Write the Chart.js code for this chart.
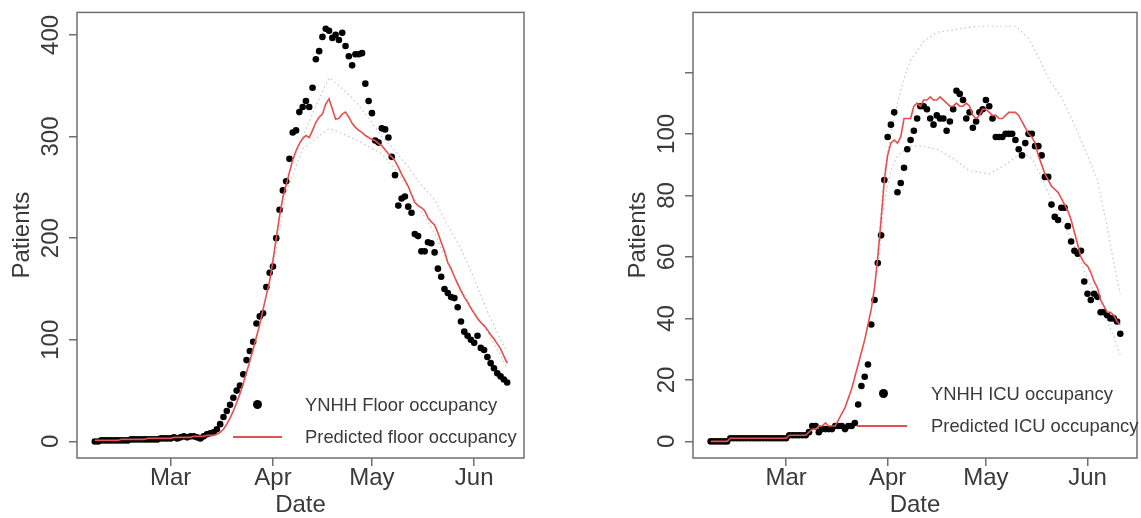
<!DOCTYPE html>
<html>
<head>
<meta charset="utf-8">
<script src="https://cdn.jsdelivr.net/npm/chart.js@4/dist/chart.umd.min.js"></script>
<style>
    body { margin: 0; background: #fff; width: 1141px; height: 518px; overflow: hidden; position: relative;
           font-family: "Liberation Sans", Arial, sans-serif; }
    canvas { position: absolute; top: 0; }
    #floorChart { left: 0; }
    #icuChart { left: 616px; }
    .leg-text { position: absolute; font-size: 18.4px; line-height: 20px; color: #3a3a3a; white-space: nowrap; }
    .leg-dot { position: absolute; width: 9px; height: 9px; border-radius: 50%; background: #000; }
    .leg-line { position: absolute; height: 2px; background: rgb(228, 80, 80); }
</style>
</head>
<body>
<canvas id="floorChart" width="540" height="518"></canvas>
<canvas id="icuChart" width="525" height="518"></canvas>

<!-- legends -->
<div class="leg-dot" style="left:253px; top:400px;"></div>
<div class="leg-text" style="left:305px; top:395px;">YNHH Floor occupancy</div>
<div class="leg-line" style="left:233px; top:436px; width:49px;"></div>
<div class="leg-text" style="left:305px; top:427px;">Predicted floor occupancy</div>

<div class="leg-dot" style="left:879px; top:389px;"></div>
<div class="leg-text" style="left:931px; top:384px;">YNHH ICU occupancy</div>
<div class="leg-line" style="left:857px; top:425px; width:50px;"></div>
<div class="leg-text" style="left:931px; top:416px;">Predicted ICU occupancy</div>

<script>
// Days are counted from Mar 1 (day 0); the series run daily from Feb 7 (day -23)
const firstDay = -23;
const xTickDays = [0, 31, 61, 92];
const xTickLabels = ['Mar', 'Apr', 'May', 'Jun'];

// Floor occupancy (left panel)
const floorObserved = [
    0, 0, 1, 1, 1, 1, 1, 1, 1,
    1, 1, 2, 2, 2, 2, 2, 2, 2, 2, 2, 3, 3, 3,
    3, 4, 3, 4, 5, 4, 5, 5, 4, 3, 5, 7, 8,
    9, 12, 17, 24, 30, 36, 43, 50, 55, 66, 80, 89, 98, 116, 123, 126, 152, 166, 172,
    200, 228, 247, 256, 278, 304, 306, 324, 329, 335, 329, 348, 376, 384, 398, 406, 404, 397, 400, 395, 402, 389, 379, 370, 381, 381, 382,
    352, 335, 323, 296, 294, 308, 307, 299, 280, 262, 232, 239, 241, 231, 225, 204, 202, 187, 187, 196, 195, 186,
    170, 162, 150, 146, 142, 141, 132, 118, 108, 104, 100, 97, 104, 92, 90, 83, 77, 72, 67, 64, 61, 58
];
const floorPredicted = [
    1, 1, 1, 1, 1, 1, 1, 1,
    2, 2, 2, 2, 2, 2, 2, 2,
    3, 3, 3, 3, 3, 3, 3, 3,
    4, 4, 4, 4, 4, 4, 5, 5, 5, 5, 6, 6,
    6, 7, 9, 12, 17, 23, 30, 38, 47, 57, 68, 79, 91, 103, 115, 130, 144, 158,
    178, 200, 222, 240, 252, 265, 277, 286, 293, 298, 301, 299, 306, 314, 319, 322, 332, 337, 327, 317, 318, 322, 324, 319, 313, 309, 306, 304, 301, 299, 297,
    296, 293, 291, 287, 283, 280, 276, 270, 263, 257, 251, 243, 235, 232, 230, 227, 220, 216, 213, 205, 196, 187,
    176, 170, 162, 155, 148, 142, 137, 131, 126, 121, 117, 114, 110, 105, 101, 96, 91, 84, 77
];
const floorBandDays = [30, 35, 40, 44, 48, 52, 56, 60, 64, 68, 72, 76, 80, 84, 88, 92, 96, 100, 102];
const floorUpper = [162, 258, 300, 330, 358, 347, 335, 318, 300, 286, 270, 252, 238, 212, 190, 160, 128, 100, 88];
const floorLower = [155, 245, 288, 298, 308, 303, 297, 290, 283, 268, 250, 226, 205, 175, 150, 128, 108, 85, 72];
const floorYTicks = [0, 100, 200, 300, 400];

// ICU occupancy (right panel)
const icuObserved = [
    0, 0, 0, 0, 0, 0,
    1, 1, 1, 1, 1, 1, 1, 1, 1, 1, 1, 1, 1, 1, 1, 1, 1, 1,
    2, 2, 2, 2, 2, 2,
    3, 5, 5, 3, 4, 4, 4, 4, 5, 5, 5, 4, 5, 5, 6,
    12, 18, 21, 25, 38, 46, 58, 67, 85, 99, 103, 107,
    81, 84, 89, 95, 98, 101, 105, 109, 109, 108, 105, 103, 106, 105, 105, 101, 104, 108, 114, 113, 111, 105, 107, 102, 104, 107, 108, 111, 109, 105,
    99, 99, 99, 100, 100, 100, 98, 95, 93, 97, 100, 100, 96, 96, 93, 86, 86, 77, 73, 72,
    76, 76, 70, 65, 62, 61, 62, 52, 48, 46, 48, 47, 42, 42, 41, 40, 40, 39, 35
];
const icuPredicted = [
    0, 0, 0, 0, 0, 0,
    1, 1, 1, 1, 1, 1, 1, 1, 1, 1, 1, 1, 1, 1, 1, 1, 1, 1,
    2, 2, 2, 2, 2, 2,
    3, 4, 4, 5, 5, 6, 5, 5, 5, 7,
    9, 11, 14, 17, 21, 25, 29, 33, 38, 43, 50, 60, 72, 85, 93, 97, 98, 97, 99,
    105, 105, 105, 109, 110, 109, 111, 111, 112, 111, 111, 112, 111, 110, 109, 109, 110, 109, 109, 110, 109,
    106, 105, 106, 108, 108, 107, 106, 106, 105, 105, 106, 107, 107, 107, 106, 104, 102, 100, 99, 97, 93, 90, 87,
    85, 83, 82, 81, 79, 77, 75, 72, 68, 64, 60, 58, 57, 55, 52, 50, 46, 44, 42, 42, 41, 39, 38
];
const icuUpperDays = [28, 30, 32, 34, 36, 38, 42, 46, 52, 58, 64, 70, 74, 77, 80, 84, 88, 92, 95, 98, 100, 102];
const icuUpper = [62, 88, 100, 110, 118, 124, 130, 133, 134, 135, 135, 135, 131, 125, 118, 112, 103, 93, 85, 70, 58, 48];
const icuLowerDays = [28, 30, 32, 34, 38, 42, 46, 51, 56, 62, 67, 72, 75, 78, 82, 87, 92, 97, 100, 102];
const icuLower = [55, 78, 88, 93, 96, 96, 95, 92, 88, 87, 90, 94, 92, 86, 76, 66, 53, 42, 34, 28];
const icuYTicks = [0, 20, 40, 60, 80, 100, 120];
const icuYLabels = ['0', '20', '40', '60', '80', '100', ''];

// Shared look
const fontFamily = '"Liberation Sans", Arial, sans-serif';
const textColor = '#3a3a3a';
const axisColor = '#6f6f6f';
const predColor = 'rgb(228, 80, 80)';
const bandColor = '#c6c6c6';

// Turn a daily series into {x, y} points
function daily(values) {
    return values.map((v, i) => ({ x: firstDay + i, y: v }));
}
function paired(days, values) {
    return days.map((d, i) => ({ x: d, y: values[i] }));
}

// Box around the plot region, like R's bty="o"
const boxPlugin = {
    id: 'plotBox',
    afterDraw(chart) {
        const { ctx, chartArea: a } = chart;
        ctx.save();
        ctx.strokeStyle = axisColor;
        ctx.lineWidth = 1.5;
        ctx.strokeRect(a.left, a.top, a.right - a.left, a.bottom - a.top);
        ctx.restore();
    }
};

function makePanel(canvasId, cfg) {
    const ctx = document.getElementById(canvasId).getContext('2d');
    return new Chart(ctx, {
        type: 'scatter',
        data: {
            datasets: [
                {
                    label: 'Predicted',
                    data: daily(cfg.predicted),
                    showLine: true,
                    borderColor: predColor,
                    borderWidth: 1.6,
                    pointRadius: 0,
                    tension: 0
                },
                {
                    label: 'Observed',
                    data: daily(cfg.observed),
                    showLine: false,
                    pointRadius: 3.3,
                    pointBackgroundColor: '#000',
                    pointBorderWidth: 0
                },
                {
                    label: 'Upper',
                    data: cfg.upper,
                    showLine: true,
                    borderColor: bandColor,
                    borderWidth: 1.2,
                    borderDash: [1.5, 3],
                    pointRadius: 0
                },
                {
                    label: 'Lower',
                    data: cfg.lower,
                    showLine: true,
                    borderColor: bandColor,
                    borderWidth: 1.2,
                    borderDash: [1.5, 3],
                    pointRadius: 0
                }
            ]
        },
        options: {
            responsive: false,
            animation: false,
            devicePixelRatio: 1,
            layout: { padding: { top: 7, right: cfg.padRight, bottom: 0, left: 0 } },
            plugins: { legend: { display: false }, tooltip: { enabled: false } },
            scales: {
                x: {
                    type: 'linear',
                    min: -28.4,
                    max: 107.1,
                    afterBuildTicks: s => { s.ticks = xTickDays.map(v => ({ value: v })); },
                    afterFit: s => { s.height = 60; },
                    border: { display: false },
                    grid: { drawOnChartArea: false, drawTicks: true, tickLength: 8, color: axisColor, lineWidth: 1.5 },
                    ticks: {
                        autoSkip: false, minRotation: 0, maxRotation: 0, padding: -2,
                        color: textColor, font: { family: fontFamily, size: 24 },
                        callback: (v, i) => xTickLabels[i]
                    },
                    title: {
                        display: true, text: 'Date', color: textColor,
                        font: { family: fontFamily, size: 24 }, padding: { top: 0, bottom: -2 }
                    }
                },
                y: {
                    type: 'linear',
                    min: cfg.yMin,
                    max: cfg.yMax,
                    afterBuildTicks: s => { s.ticks = cfg.yTicks.map(v => ({ value: v })); },
                    afterFit: s => { s.width = 77; },
                    border: { display: false },
                    grid: { drawOnChartArea: false, drawTicks: true, tickLength: 8, color: axisColor, lineWidth: 1.5 },
                    ticks: {
                        minRotation: 90, maxRotation: 90, padding: -2, crossAlign: 'center',
                        color: textColor, font: { family: fontFamily, size: 24 },
                        callback: (v, i) => cfg.yLabels[i]
                    },
                    title: {
                        display: true, text: 'Patients', color: textColor,
                        font: { family: fontFamily, size: 24 }, padding: { top: 8, bottom: 0 }
                    }
                }
            }
        },
        plugins: [boxPlugin]
    });
}

makePanel('floorChart', {
    observed: floorObserved,
    predicted: floorPredicted,
    upper: paired(floorBandDays, floorUpper),
    lower: paired(floorBandDays, floorLower),
    yMin: -16.3,
    yMax: 422.1,
    yTicks: floorYTicks,
    yLabels: floorYTicks.map(String),
    padRight: 16
});

makePanel('icuChart', {
    observed: icuObserved,
    predicted: icuPredicted,
    upper: paired(icuUpperDays, icuUpper),
    lower: paired(icuLowerDays, icuLower),
    yMin: -5.4,
    yMax: 139.5,
    yTicks: icuYTicks,
    yLabels: icuYLabels,
    padRight: 1
});
</script>
</body>
</html>
